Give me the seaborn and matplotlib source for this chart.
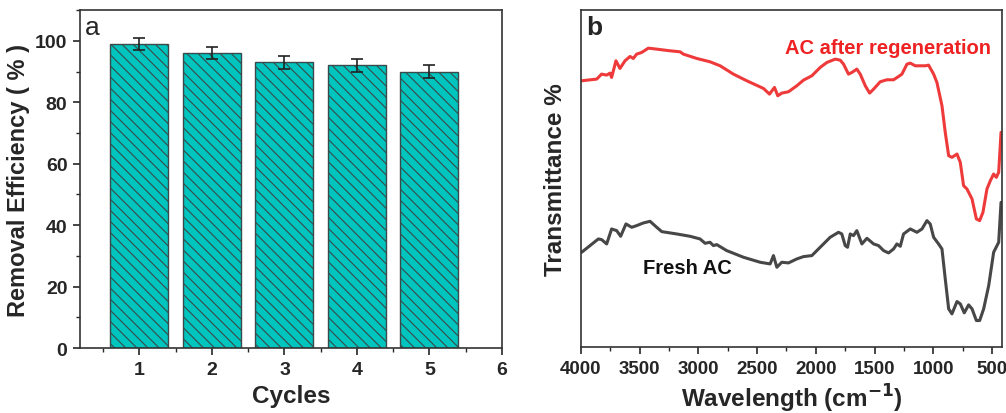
import numpy as np
import pandas as pd
import matplotlib
matplotlib.use('Agg')
import matplotlib.pyplot as plt
import seaborn as sns
from matplotlib.ticker import MultipleLocator

# panel a - removal efficiency per cycle
cycles = [1, 2, 3, 4, 5]
efficiency = [99, 96, 93, 92, 90]
eff_err = [2, 2, 2, 2, 2]

# panel b - FTIR spectra (transmittance in arbitrary units)
regen_wn = [3994, 3866, 3824, 3781, 3753, 3739, 3702, 3668, 3625, 3582, 3554, 3526, 3483, 3426,
            3355, 3241, 3156, 3128, 3014, 2901, 2815, 2702, 2588, 2446, 2395, 2352, 2324, 2290,
            2233, 2162, 2105, 2034, 1963, 1906, 1835, 1793, 1764, 1722, 1693, 1651, 1622, 1579,
            1542, 1508, 1452, 1395, 1338, 1295, 1267, 1224, 1196, 1153, 1068, 1040, 997, 969,
            926, 898, 869, 841, 798, 770, 742, 713, 670, 633, 605, 577, 543, 514, 486, 463, 443, 423]
regen_t = [80.0, 80.5, 82.0, 81.7, 82.3, 81.0, 86.0, 83.7, 86.0, 87.3, 86.7, 88.0, 88.5, 89.8,
           89.5, 89.0, 88.7, 88.0, 86.7, 85.7, 84.5, 82.0, 80.0, 77.7, 76.0, 78.0, 75.5, 76.3,
           76.7, 78.5, 80.2, 81.5, 84.0, 85.5, 86.5, 86.2, 85.0, 82.0, 82.5, 83.5, 82.0, 78.5,
           76.3, 77.5, 79.7, 80.3, 80.3, 81.3, 82.0, 85.0, 85.3, 84.5, 84.5, 84.7, 82.0, 79.5,
           72.5, 64.5, 57.5, 57.0, 58.0, 55.5, 48.5, 47.5, 44.5, 38.5, 38.0, 40.5, 47.5, 50.0,
           52.0, 51.0, 52.5, 64.5]

fresh_wn = [3994, 3923, 3852, 3824, 3781, 3739, 3696, 3662, 3617, 3568, 3526, 3469, 3412, 3355,
            3312, 3185, 3071, 2986, 2943, 2901, 2872, 2844, 2759, 2616, 2474, 2389, 2361, 2332,
            2290, 2233, 2162, 2105, 2034, 1949, 1878, 1807, 1779, 1750, 1730, 1707, 1679, 1651,
            1608, 1565, 1508, 1466, 1423, 1381, 1338, 1310, 1281, 1253, 1196, 1139, 1096, 1054,
            1026, 997, 955, 926, 898, 869, 841, 798, 770, 736, 699, 670, 633, 605, 571, 528,
            486, 443, 423]
fresh_t = [28.5, 30.5, 32.5, 32.3, 31.0, 35.5, 35.0, 33.3, 37.0, 36.0, 36.5, 37.3, 37.8, 36.0,
           34.7, 34.0, 33.3, 32.5, 31.2, 31.5, 30.5, 30.8, 29.0, 27.0, 25.5, 25.0, 27.5, 24.0,
           25.5, 25.3, 26.5, 27.2, 27.5, 30.5, 33.0, 34.5, 34.0, 30.5, 30.0, 34.0, 33.5, 35.0,
           31.0, 32.7, 31.0, 30.5, 29.0, 28.3, 29.5, 31.0, 30.3, 34.0, 35.5, 34.5, 35.5, 38.0,
           37.0, 33.0, 31.0, 29.5, 20.5, 11.5, 10.0, 13.7, 13.0, 10.3, 12.7, 11.5, 8.0, 8.0,
           11.5, 18.5, 28.5, 31.5, 43.5]

sns.set_style('ticks')
plt.rcParams['font.family'] = ['Liberation Sans', 'DejaVu Sans']
plt.rcParams['hatch.color'] = '#1d4a48'
plt.rcParams['hatch.linewidth'] = 0.8
plt.rcParams['axes.edgecolor'] = '#333333'
plt.rcParams['axes.linewidth'] = 1.2

fig = plt.figure(figsize=(10.06, 4.14), dpi=100)
ax1 = fig.add_axes([0.0795, 0.157, 0.4195, 0.816])
ax2 = fig.add_axes([0.5775, 0.159, 0.4185, 0.814])

# ---- panel a
df_a = pd.DataFrame({'Cycles': cycles, 'Eff': efficiency})
sns.barplot(data=df_a, x='Cycles', y='Eff', native_scale=True, width=0.8,
            color='#00C4BE', saturation=1, edgecolor='#3a4a4a', linewidth=1.0,
            hatch='\\\\\\', errorbar=None, ax=ax1)
ax1.errorbar(cycles, efficiency, yerr=eff_err, fmt='none', ecolor='#222222',
             elinewidth=1.2, capsize=4, capthick=1.2)
ax1.set_xlim(0.18, 6)
ax1.set_ylim(0, 110)
ax1.xaxis.set_major_locator(MultipleLocator(1))
ax1.xaxis.set_minor_locator(MultipleLocator(0.5))
ax1.yaxis.set_major_locator(MultipleLocator(20))
ax1.yaxis.set_minor_locator(MultipleLocator(10))
ax1.set_xticks([1, 2, 3, 4, 5, 6])
ax1.tick_params(which='major', direction='out', length=5, width=1.2, labelsize=14, pad=4)
ax1.tick_params(which='minor', direction='out', length=3, width=1.0)
for lab in ax1.get_xticklabels() + ax1.get_yticklabels():
    lab.set_fontweight('bold')
ax1.set_xlabel('Cycles', fontsize=17.5, fontweight='bold', labelpad=5)
ax1.set_ylabel('Removal Efficiency ( % )', fontsize=17, fontweight='bold', labelpad=4)
ax1.text(0.012, 0.985, 'a', transform=ax1.transAxes, fontsize=19, va='top', ha='left')

# ---- panel b
df_r = pd.DataFrame({'wn': regen_wn, 'T': regen_t})
df_f = pd.DataFrame({'wn': fresh_wn, 'T': fresh_t})
sns.lineplot(data=df_r, x='wn', y='T', sort=False, color='#EE3A3A', linewidth=2.2, ax=ax2)
sns.lineplot(data=df_f, x='wn', y='T', sort=False, color='#474747', linewidth=2.2, ax=ax2)
ax2.set_xlim(4000, 415)
ax2.set_ylim(0, 101.2)
ax2.set_yticks([])
ax2.xaxis.set_major_locator(MultipleLocator(500))
ax2.xaxis.set_minor_locator(MultipleLocator(250))
ax2.tick_params(which='major', direction='out', length=5, width=1.2, labelsize=13.5, pad=4)
ax2.tick_params(which='minor', direction='out', length=3, width=1.0)
for lab in ax2.get_xticklabels():
    lab.set_fontweight('bold')
ax2.set_xlabel('Wavelength (cm$^{\\mathbf{-1}}$)', fontsize=17.5, fontweight='bold', labelpad=4)
ax2.set_ylabel('Transmittance %', fontsize=17.5, fontweight='bold', labelpad=10)
ax2.text(0.012, 0.985, 'b', transform=ax2.transAxes, fontsize=19, fontweight='bold',
         va='top', ha='left')
ax2.text(2262, 90, 'AC after regeneration', color='#EE2222', fontsize=14.5,
         fontweight='bold', va='center', ha='left')
ax2.text(3474, 24, 'Fresh AC', color='#111111', fontsize=14.5,
         fontweight='bold', va='center', ha='left')

fig.savefig('out.png', dpi=100)
